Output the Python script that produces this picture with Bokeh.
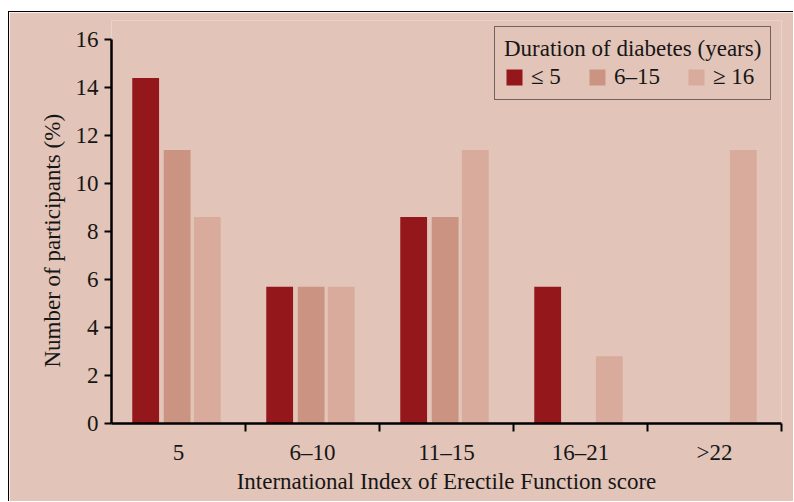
import numpy as np
from bokeh.plotting import figure
from bokeh.models import (ColumnDataSource, Range1d, FixedTicker, Legend, LegendItem, Title)
from bokeh.embed import file_html
from bokeh.resources import INLINE

# ---- data ----
categories = ["5", "6\u201310", "11\u201315", "16\u201321", ">22"]
dur_le5 = [14.4, 5.7, 8.6, 5.7, 0.0]
dur_6_15 = [11.4, 5.7, 8.6, 0.0, 0.0]
dur_ge16 = [8.6, 5.7, 11.4, 2.8, 11.4]
series_labels = ["\u2264 5", "6\u201315", "\u2265 16"]
legend_title = "Duration of diabetes (years)"
y_ticks = [0, 2, 4, 6, 8, 10, 12, 14, 16]
y_axis_max = 16
x_title = "International Index of Erectile Function score"
y_title = "Number of participants (%)"

BG = "#e3c4b8"
COLORS = ["#94171c", "#cb9382", "#d8ab9c"]
FONT = "Liberation Serif, DejaVu Serif, serif"
INK = "#161616"

centers = np.arange(len(categories), dtype=float)
offsets = [-0.245, -0.01, 0.215]
bar_w = 0.2

# frame extends a little above the axis top (so the legend sits inside the frame)
px_per_unit = 24.0
extra_top_px = 19
y_end = y_axis_max + extra_top_px / px_per_unit

p = figure(width=785, height=490, output_backend="svg", toolbar_location=None,
           x_range=Range1d(-0.5, len(categories) - 0.5), y_range=Range1d(0, y_end),
           min_border_left=102, min_border_right=13, min_border_top=27 - extra_top_px,
           min_border_bottom=79)
p.styles = {"margin-left": "8px", "margin-top": "11px",
            "border-left": "1px solid black", "border-top": "1px solid black"}
p.background_fill_color = BG
p.border_fill_color = BG
p.outline_line_color = None
p.xgrid.visible = False
p.ygrid.visible = False

renderers = []
for vals, off, col in zip([dur_le5, dur_6_15, dur_ge16], offsets, COLORS):
    src = ColumnDataSource(dict(x=centers + off, top=vals))
    r = p.vbar(x="x", top="top", bottom=0, width=bar_w, source=src,
               fill_color=col, line_color=None)
    renderers.append(r)

# x axis: labels at centres, ticks at category boundaries (minor ticks)
xa = p.xaxis[0]
xa.ticker = FixedTicker(ticks=list(centers), minor_ticks=list(centers[1:] - 0.5) + [len(categories) - 0.5])
xa.major_label_overrides = {int(c): lab for c, lab in zip(centers, categories)}
xa.major_tick_line_color = None
xa.major_tick_out = 0
xa.major_tick_in = 0
xa.minor_tick_out = 8
xa.minor_tick_in = 0
xa.minor_tick_line_width = 2
xa.minor_tick_line_color = "black"
xa.axis_line_width = 2.5
xa.axis_line_color = "black"
xa.major_label_standoff = 8
xa.axis_label = x_title
xa.axis_label_standoff = 1
xa.axis_label_text_font = FONT
xa.axis_label_text_font_size = "23px"
xa.axis_label_text_font_style = "normal"
xa.axis_label_text_color = INK

ya = p.yaxis[0]
ya.ticker = FixedTicker(ticks=y_ticks, minor_ticks=[])
ya.bounds = (0, y_axis_max)
ya.major_tick_out = 7
ya.major_tick_in = 0
ya.major_tick_line_width = 2
ya.major_tick_line_color = "black"
ya.axis_line_width = 2.5
ya.axis_line_color = "black"
ya.major_label_standoff = 6

for ax in (xa, ya):
    ax.major_label_text_font = FONT
    ax.major_label_text_font_size = "23px"
    ax.major_label_text_color = INK

# y axis title, placed along the axis (starts above the frame bottom)
ytitle = Title(text=y_title, align="left", offset=56, standoff=15,
               text_font=FONT, text_font_size="23px", text_font_style="normal",
               text_color=INK)
p.add_layout(ytitle, "left")

legend = Legend(items=[LegendItem(label=lab, renderers=[r]) for lab, r in zip(series_labels, renderers)],
                orientation="horizontal", location=(383, 323), title=legend_title)
legend.title_text_font = FONT
legend.title_text_font_size = "23px"
legend.title_text_font_style = "normal"
legend.title_text_color = INK
legend.title_text_baseline = "top"
legend.title_standoff = 2
legend.label_text_font = FONT
legend.label_text_font_size = "23px"
legend.label_text_color = INK
legend.glyph_width = 20
legend.glyph_height = 20
legend.label_standoff = 7
legend.spacing = 26
legend.padding = 9
legend.margin = 0
legend.border_line_color = "black"
legend.border_line_width = 1.3
legend.background_fill_alpha = 0
p.add_layout(legend)

open("out.html", "w").write(file_html(p, INLINE))
